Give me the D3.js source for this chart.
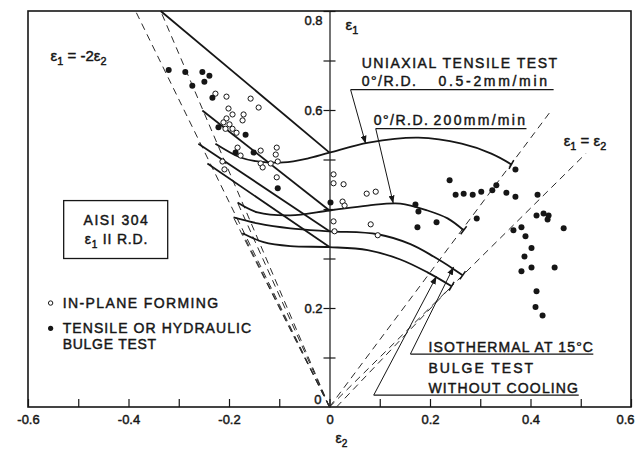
<!DOCTYPE html>
<html>
<head>
<meta charset="utf-8">
<script src="https://cdn.jsdelivr.net/npm/d3@7"></script>
<style>
	body { margin: 0; background: #fff; }
	svg text { font-family: 'Liberation Sans', Arial, sans-serif; fill: #161616; stroke: #161616; stroke-width: 0.45px; }
</style>
</head>
<body>
<div id="chart"></div>
<script>
// axis ticks (eps2 horizontal, eps1 vertical)
const xTickValues = [-0.6, -0.5, -0.4, -0.3, -0.2, -0.1, 0, 0.1, 0.2, 0.3, 0.4, 0.5, 0.6];
const xTickLabels = ['-0.6', '', '-0.4', '', '-0.2', '', '0', '', '0.2', '', '0.4', '', '0.6'];
const yTickValues = [0.1, 0.2, 0.3, 0.4, 0.5, 0.6, 0.7, 0.8];
const yTickLabels = ['', '0.2', '', '', '', '0.6', '', '0.8'];

// forming limit curves [eps2, eps1]
const curveA = [[-0.227, 0.532], [-0.177, 0.504], [-0.143, 0.496], [-0.092, 0.494], [-0.044, 0.502], [0, 0.514],
	[0.078, 0.534], [0.177, 0.544], [0.263, 0.532], [0.322, 0.512], [0.362, 0.490]];
const curveB = [[-0.183, 0.413], [-0.143, 0.393], [-0.078, 0.387], [0, 0.397], [0.076, 0.407], [0.141, 0.411],
	[0.195, 0.397], [0.235, 0.381], [0.267, 0.357]];
const curveC = [[-0.191, 0.383], [-0.143, 0.371], [-0.078, 0.361], [0, 0.355], [0.096, 0.349], [0.161, 0.329],
	[0.207, 0.304], [0.245, 0.280], [0.265, 0.266]];
const curveD = [[-0.173, 0.351], [-0.131, 0.333], [-0.078, 0.325], [0, 0.323], [0.076, 0.317], [0.141, 0.298],
	[0.195, 0.272], [0.243, 0.244]];

// straight left-hand branches
const lineA = [[-0.336, 0.8], [0, 0.514]];
const lineB = [[-0.253, 0.599], [0, 0.397]];
const lineC = [[-0.261, 0.532], [0, 0.355]];
const lineD = [[-0.243, 0.492], [0, 0.323]];

// strain paths (dashed)
const strainPaths = [
	[[0, 0], [-0.386, 0.8]],
	[[0, 0], [-0.336, 0.8]],
	[[0, 0], [-0.183, 0.413]],
	[[0, 0], [-0.191, 0.383]],
	[[0, 0], [-0.173, 0.351]],
	[[0, 0], [0.442, 0.6]],
	[[0, 0], [0.51, 0.512]],
	[[0.014, 0], [0.243, 0.244]]
];

// in-plane forming (open circles)
const inPlane = [[-0.227, 0.633], [-0.205, 0.627], [-0.157, 0.623], [-0.141, 0.605], [-0.201, 0.603], [-0.193, 0.591],
	[-0.205, 0.583], [-0.171, 0.591], [-0.173, 0.579], [-0.211, 0.575], [-0.199, 0.571], [-0.193, 0.562],
	[-0.207, 0.562], [-0.185, 0.554], [-0.183, 0.524], [-0.177, 0.508], [-0.137, 0.518], [-0.105, 0.524],
	[-0.107, 0.510], [-0.103, 0.496], [-0.137, 0.492], [-0.117, 0.492], [-0.133, 0.484], [-0.213, 0.496],
	[-0.209, 0.480], [-0.105, 0.464], [0.008, 0.470], [0.008, 0.452], [0.028, 0.450], [0.074, 0.431],
	[0.092, 0.435], [0.026, 0.415], [0.030, 0.407], [0.008, 0.375], [0.082, 0.369], [0.010, 0.355],
	[0.096, 0.347]];

// tensile or hydraulic bulge test (filled dots)
const bulge = [[-0.320, 0.681], [-0.287, 0.677], [-0.253, 0.677], [-0.239, 0.669], [-0.249, 0.657], [-0.273, 0.649],
	[-0.233, 0.625], [-0.221, 0.565], [-0.167, 0.550], [-0.187, 0.514], [-0.151, 0.514], [-0.103, 0.442],
	[0.002, 0.413], [0.171, 0.409], [0.177, 0.395], [0.175, 0.363], [0.213, 0.373], [0.239, 0.458],
	[0.251, 0.429], [0.267, 0.431], [0.285, 0.429], [0.302, 0.435], [0.324, 0.438], [0.332, 0.448],
	[0.352, 0.433], [0.370, 0.425], [0.370, 0.480], [0.293, 0.381], [0.414, 0.429], [0.412, 0.387],
	[0.426, 0.391], [0.436, 0.387], [0.434, 0.379], [0.466, 0.361], [0.366, 0.357], [0.382, 0.363],
	[0.390, 0.345], [0.402, 0.321], [0.388, 0.304], [0.402, 0.282], [0.382, 0.274], [0.448, 0.282],
	[0.412, 0.234], [0.410, 0.202], [0.424, 0.185]];

const width = 638,
	height = 450;

const x = d3.scaleLinear().domain([-0.6, 0.6]).range([28, 631]);
const y = d3.scaleLinear().domain([0, 0.8]).range([407, 11]);
const line = d3.line().x(d => x(d[0])).y(d => y(d[1]));
const smooth = d3.line().x(d => x(d[0])).y(d => y(d[1])).curve(d3.curveCatmullRom);

const svg = d3.select('#chart').append('svg')
	.attr('width', width)
	.attr('height', height);

svg.append('defs').append('marker')
	.attr('id', 'arrow')
	.attr('markerUnits', 'userSpaceOnUse')
	.attr('markerWidth', 8)
	.attr('markerHeight', 6)
	.attr('refX', 8)
	.attr('refY', 3)
	.attr('orient', 'auto')
	.append('path')
	.attr('d', 'M0,0L8,3L0,6z')
	.attr('fill', '#161616');

// frame
svg.append('rect')
	.attr('x', x(-0.6))
	.attr('y', y(0.8))
	.attr('width', x(0.6) - x(-0.6))
	.attr('height', y(0) - y(0.8))
	.attr('fill', 'none')
	.attr('stroke', '#161616')
	.attr('stroke-width', 1.6);

// x axis, ticks pointing up into the plot
let xAxis = svg.append('g')
	.attr('transform', 'translate(0,' + y(0) + ')')
	.call(d3.axisBottom(x).tickValues(xTickValues).tickSize(-8).tickSizeOuter(0).tickPadding(8)
		.tickFormat((d, i) => xTickLabels[i]));
xAxis.select('.domain').remove();
xAxis.selectAll('line').attr('stroke', '#161616').attr('stroke-width', 1.2);
xAxis.selectAll('text').attr('font-size', 13).attr('font-family', null).attr('fill', null);
// last label sits inside the page edge
xAxis.selectAll('.tick').filter(d => d === 0.6).select('text').attr('text-anchor', 'end').attr('x', 3);

// y axis through eps2 = 0, ticks crossing both sides
let yAxis = svg.append('g')
	.attr('transform', 'translate(' + x(0) + ',0)')
	.call(d3.axisLeft(y).tickValues(yTickValues).tickSize(6).tickSizeOuter(0).tickPadding(1)
		.tickFormat((d, i) => yTickLabels[i]));
yAxis.select('.domain').attr('stroke', '#161616').attr('stroke-width', 1.2);
yAxis.selectAll('line').attr('stroke', '#161616').attr('stroke-width', 1.2);
yAxis.selectAll('text').attr('font-size', 13).attr('font-family', null).attr('fill', null);
yAxis.selectAll('.tick').filter(d => d === 0.8).select('text').attr('dy', '1.0em');
svg.append('g')
	.attr('transform', 'translate(' + x(0) + ',0)')
	.call(d3.axisRight(y).tickValues(yTickValues).tickSize(6).tickSizeOuter(0).tickFormat(''))
	.call(g => g.select('.domain').remove())
	.selectAll('line').attr('stroke', '#161616').attr('stroke-width', 1.2);
svg.append('text')
	.attr('x', x(0) - 8)
	.attr('y', y(0) - 3)
	.attr('text-anchor', 'end')
	.attr('font-size', 13)
	.text('0');

// axis names
function subText(parts, px, py, size, anchor) {
	let t = svg.append('text')
		.attr('x', px)
		.attr('y', py)
		.attr('font-size', size)
		.attr('text-anchor', anchor || 'start');
	let shift = 0;
	parts.forEach(p => {
		let ts = t.append('tspan').text(p[0]);
		if (p[1]) {
			ts.attr('font-size', size * 0.72).attr('dy', 4 - shift);
			shift = 4;
		} else if (shift) {
			ts.attr('dy', -shift);
			shift = 0;
		}
	});
	return t;
}
subText([['ε', false], ['1', true]], x(0.032), y(0.762), 15);
subText([['ε', false], ['2', true]], x(0.012), 443, 14);
subText([['ε', false], ['1', true], [' = -2ε', false], ['2', true]], x(-0.555), y(0.698), 15);
subText([['ε', false], ['1', true], [' = ε', false], ['2', true]], x(0.466), y(0.528), 15);

// dashed strain paths
svg.append('g').selectAll('path')
	.data(strainPaths)
	.enter().append('path')
	.attr('d', line)
	.attr('fill', 'none')
	.attr('stroke', '#2a2a2a')
	.attr('stroke-width', 1)
	.attr('stroke-dasharray', '7,5');

// left-hand straight branches
svg.append('g').selectAll('path')
	.data([lineA, lineB, lineC, lineD])
	.enter().append('path')
	.attr('d', line)
	.attr('fill', 'none')
	.attr('stroke', '#161616')
	.attr('stroke-width', 1.8);

// curves with end bars
let curves = [curveA, curveB, curveC, curveD];
svg.append('g').selectAll('path')
	.data(curves)
	.enter().append('path')
	.attr('d', smooth)
	.attr('fill', 'none')
	.attr('stroke', '#161616')
	.attr('stroke-width', 1.8);
curves.forEach(c => {
	let p = c[c.length - 1], q = c[c.length - 2];
	let dx = x(p[0]) - x(q[0]), dy = y(p[1]) - y(q[1]);
	let len = Math.sqrt(dx * dx + dy * dy);
	let nx = -dy / len * 5, ny = dx / len * 5;
	svg.append('line')
		.attr('x1', x(p[0]) - nx).attr('y1', y(p[1]) - ny)
		.attr('x2', x(p[0]) + nx).attr('y2', y(p[1]) + ny)
		.attr('stroke', '#161616')
		.attr('stroke-width', 1.5);
});

// callouts: underline plus leader with arrow
const leaders = [
	{ x0: 0.042, x1: 0.446, yl: 0.641, tip: [0.072, 0.532] },
	{ x0: 0.092, x1: 0.392, yl: 0.5625, tip: [0.127, 0.411] },
	{ x0: 0.161, x1: 0.525, yl: 0.107, tip: [0.247, 0.283] },
	{ x0: 0.088, x1: 0.496, yl: 0.024, tip: [0.213, 0.264] }
];
leaders.forEach(l => {
	svg.append('line')
		.attr('x1', x(l.x0)).attr('y1', y(l.yl))
		.attr('x2', x(l.x1)).attr('y2', y(l.yl))
		.attr('stroke', '#161616')
		.attr('stroke-width', 1.2);
	svg.append('line')
		.attr('x1', x(l.x0)).attr('y1', y(l.yl))
		.attr('x2', x(l.tip[0])).attr('y2', y(l.tip[1]))
		.attr('stroke', '#161616')
		.attr('stroke-width', 1)
		.attr('marker-end', 'url(#arrow)');
});

// data points
svg.append('g').selectAll('circle')
	.data(inPlane)
	.enter().append('circle')
	.attr('cx', d => x(d[0]))
	.attr('cy', d => y(d[1]))
	.attr('r', 2.6)
	.attr('fill', '#fff')
	.attr('stroke', '#161616')
	.attr('stroke-width', 1);
svg.append('g').selectAll('circle')
	.data(bulge)
	.enter().append('circle')
	.attr('cx', d => x(d[0]))
	.attr('cy', d => y(d[1]))
	.attr('r', 3)
	.attr('fill', '#161616');

// material box
svg.append('rect')
	.attr('x', x(-0.529))
	.attr('y', y(0.417))
	.attr('width', x(-0.322) - x(-0.529))
	.attr('height', y(0.300) - y(0.417))
	.attr('fill', 'none')
	.attr('stroke', '#161616')
	.attr('stroke-width', 1.3);
subText([['AISI 304', false]], x(-0.424), y(0.367), 14, 'middle').attr('letter-spacing', 1.5);
subText([['ε', false], ['1', true], [' II R.D.', false]], x(-0.424), y(0.329), 14, 'middle').attr('letter-spacing', 0.8);

// legend
svg.append('circle')
	.attr('cx', x(-0.555)).attr('cy', y(0.210)).attr('r', 2.2)
	.attr('fill', '#fff').attr('stroke', '#161616').attr('stroke-width', 1);
svg.append('circle')
	.attr('cx', x(-0.555)).attr('cy', y(0.159)).attr('r', 2.6)
	.attr('fill', '#161616');

const notes = [
	{ t: 'UNIAXIAL TENSILE TEST', x: 0.064, y: 0.685, w: 197 },
	{ t: '0°/R.D.', x: 0.064, y: 0.649 },
	{ t: '0.5-2mm/min', x: 0.217, y: 0.649, w: 110 },
	{ t: '0°/R.D.', x: 0.088, y: 0.569 },
	{ t: '200mm/min', x: 0.207, y: 0.569, w: 93 },
	{ t: 'ISOTHERMAL AT 15°C', x: 0.197, y: 0.111, w: 166 },
	{ t: 'BULGE TEST', x: 0.197, y: 0.069, w: 106 },
	{ t: 'WITHOUT COOLING', x: 0.197, y: 0.028, w: 151 },
	{ t: 'IN-PLANE FORMING', x: -0.531, y: 0.200, w: 157 },
	{ t: 'TENSILE OR HYDRAULIC', x: -0.531, y: 0.149, w: 190 },
	{ t: 'BULGE TEST', x: -0.531, y: 0.117, w: 95 }
];
svg.append('g').selectAll('text')
	.data(notes)
	.enter().append('text')
	.attr('x', d => x(d.x))
	.attr('y', d => y(d.y))
	.attr('font-size', 14)
	.attr('letter-spacing', 1.5)
	.attr('textLength', d => d.w || null)
	.attr('lengthAdjust', 'spacing')
	.text(d => d.t);
</script>
</body>
</html>
